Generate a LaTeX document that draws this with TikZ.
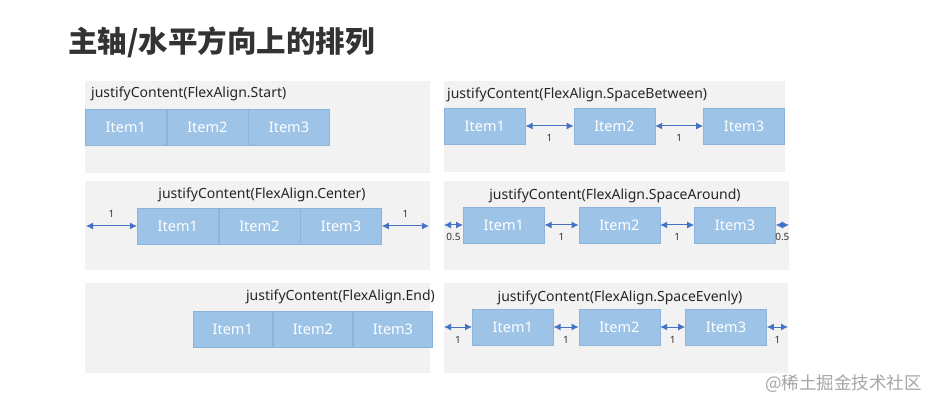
\documentclass[tikz,border=0pt]{standalone}
\usepackage{fontspec}
\setmainfont{Noto Sans}
\newfontfamily\cjk{Noto Sans CJK SC}
\usetikzlibrary{arrows.meta,positioning}
\definecolor{panelgray}{HTML}{F2F2F2}
\definecolor{itemblue}{HTML}{9DC3E6}
\definecolor{itemedge}{HTML}{8CB4DA}
\definecolor{gapblue}{HTML}{4472C4}
\definecolor{titlegray}{HTML}{333333}
\tikzset{
  panel/.style={fill=panelgray},
  item/.style={fill=itemblue, draw=itemedge, line width=0.6pt, minimum width=81pt,
    minimum height=36pt, inner sep=0pt, text=white, font=\fontsize{14.5}{14.5}\selectfont},
  caption/.style={font=\fontsize{14}{14}\selectfont, text=black!85, inner sep=0pt},
  gap/.style={gapblue, line width=1pt,
    {Latex[length=7pt,width=7pt]}-{Latex[length=7pt,width=7pt]}},
  gaplabel/.style={font=\fontsize{10}{10}\selectfont, text=black!80, inner sep=0pt},
}
\begin{document}
\begin{tikzpicture}[x=1pt,y=-1pt]
\useasboundingbox[fill=white] (0,0) rectangle (930,401);
\node[anchor=west, inner sep=0pt, text=titlegray,
  font=\cjk\bfseries\fontsize{29.5}{29.5}\selectfont] (title) at (68,42) {主轴/水平方向上的排列};

% FlexAlign.Start
\fill[panel] (85,81) rectangle (430,173);
\node[caption, anchor=west] (capstart) at (91,94) {justifyContent(FlexAlign.Start)};
\node[item, anchor=west] (s1) at (85,127) {Item1};
\node[item, right=0pt of s1] (s2) {Item2};
\node[item, right=0pt of s2] (s3) {Item3};

% FlexAlign.SpaceBetween
\fill[panel] (444,81) rectangle (785,172);
\node[caption, anchor=west] (capbetween) at (447,95) {justifyContent(FlexAlign.SpaceBetween)};
\node[item, anchor=west] (b1) at (444,126) {Item1};
\node[item, right=48pt of b1] (b2) {Item2};
\node[item, right=48pt of b2] (b3) {Item3};
\draw[gap] (b1) -- node[gaplabel, below=8pt] {1} (b2);
\draw[gap] (b2) -- node[gaplabel, below=8pt] {1} (b3);

% FlexAlign.Center
\fill[panel] (85,181) rectangle (430,270);
\node[caption] (capcenter) at (262,195) {justifyContent(FlexAlign.Center)};
\node[item, anchor=west] (c1) at (137,226) {Item1};
\node[item, right=0pt of c1] (c2) {Item2};
\node[item, right=0pt of c2] (c3) {Item3};
\coordinate (c0) at (86,226);
\coordinate (c4) at (429,226);
\draw[gap] (c0) -- node[gaplabel, above=8pt] {1} (c1);
\draw[gap] (c3) -- node[gaplabel, above=8pt] {1} (c4);

% FlexAlign.SpaceAround
\fill[panel] (444,181) rectangle (789,270);
\node[caption] (caparound) at (615,196) {justifyContent(FlexAlign.SpaceAround)};
\node[item, anchor=west] (a1) at (463,225) {Item1};
\node[item, right=34pt of a1] (a2) {Item2};
\node[item, right=34pt of a2] (a3) {Item3};
\coordinate (a0) at (444,225);
\coordinate (a4) at (789,225);
\draw[gap] (a0) -- node[gaplabel, below=8pt] {0.5} (a1);
\draw[gap] (a1) -- node[gaplabel, below=8pt] {1} (a2);
\draw[gap] (a2) -- node[gaplabel, below=8pt] {1} (a3);
\draw[gap] (a3) -- node[gaplabel, below=8pt] {0.5} (a4);

% FlexAlign.End
\fill[panel] (85,283) rectangle (430,373);
\node[caption, anchor=east] (capend) at (435,297) {justifyContent(FlexAlign.End)};
\node[item, minimum width=79.5pt, anchor=east] (e3) at (433,329) {Item3};
\node[item, minimum width=79.5pt, left=0pt of e3] (e2) {Item2};
\node[item, minimum width=79.5pt, left=0pt of e2] (e1) {Item1};

% FlexAlign.SpaceEvenly
\fill[panel] (444,283) rectangle (788,373);
\node[caption] (capevenly) at (620,298) {justifyContent(FlexAlign.SpaceEvenly)};
\node[item, anchor=west] (v1) at (472,327) {Item1};
\node[item, right=25pt of v1] (v2) {Item2};
\node[item, right=25pt of v2] (v3) {Item3};
\coordinate (v0) at (444,327);
\coordinate (v4) at (788,327);
\draw[gap] (v0) -- node[gaplabel, below=9pt] {1} (v1);
\draw[gap] (v1) -- node[gaplabel, below=9pt] {1} (v2);
\draw[gap] (v2) -- node[gaplabel, below=9pt] {1} (v3);
\draw[gap] (v3) -- node[gaplabel, below=9pt] {1} (v4);

\node[anchor=west, inner sep=0pt, text=black!35, font=\cjk\fontsize{17.5}{17.5}\selectfont]
  (mark) at (765,384) {@稀土掘金技术社区};
\end{tikzpicture}
\end{document}
